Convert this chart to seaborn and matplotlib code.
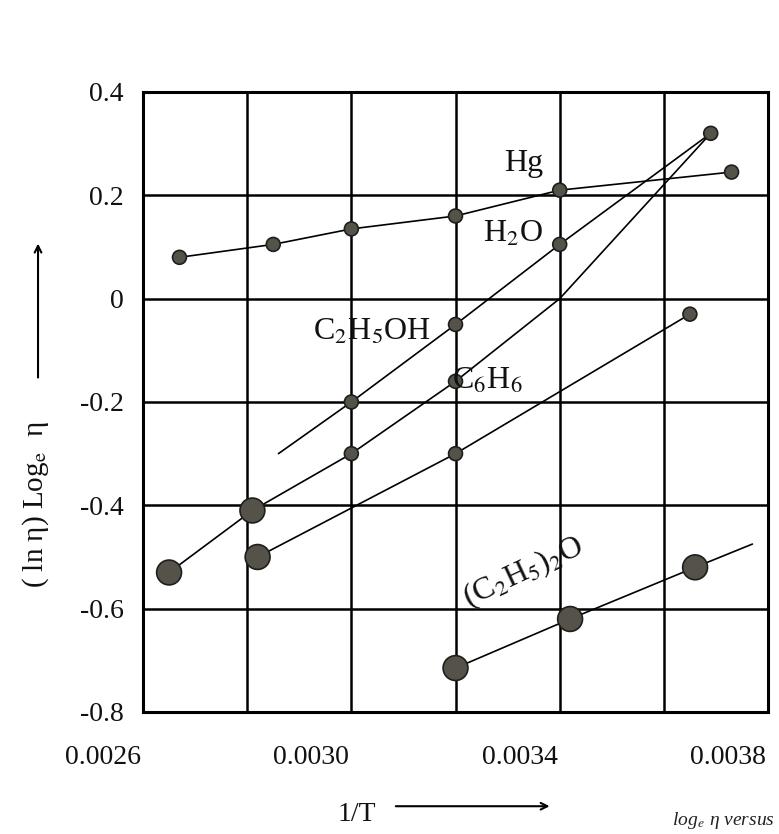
import matplotlib
matplotlib.use("Agg")
import matplotlib.pyplot as plt
import seaborn as sns
from matplotlib.transforms import ScaledTranslation

# ── data ───────────────────────────────────────────────────────
hg_x = [0.00267, 0.00285, 0.00300, 0.00320, 0.00340, 0.00373]
hg_y = [0.08, 0.105, 0.135, 0.16, 0.21, 0.245]

h2o_x = [0.00286, 0.00300, 0.00320, 0.00340, 0.00369]
h2o_y = [-0.30, -0.20, -0.05, 0.105, 0.32]

etoh_x = [0.00265, 0.00281, 0.00300, 0.00320, 0.00340, 0.00369]
etoh_y = [-0.53, -0.41, -0.30, -0.16, 0.00, 0.32]

benz_x = [0.00282, 0.00320, 0.00365]
benz_y = [-0.50, -0.30, -0.03]

ether_x = [0.00320, 0.00342, 0.00366, 0.00377]
ether_y = [-0.715, -0.62, -0.52, -0.475]

x_major = [0.0026, 0.0030, 0.0034, 0.0038]
x_minor = [0.0028, 0.0032, 0.0036]
y_ticks = [0.4, 0.2, 0.0, -0.2, -0.4, -0.6, -0.8]
y_labels = ["0.4", "0.2", "0", "-0.2", "-0.4", "-0.6", "-0.8"]

sns.set_theme(style="white")
plt.rcParams["font.family"] = ["Liberation Serif", "DejaVu Serif"]
plt.rcParams["mathtext.fontset"] = "stix"

fig = plt.figure(figsize=(7.79, 8.34), dpi=100)
ax = fig.add_axes([0.1836, 0.1463, 0.8023, 0.7434])

# series: (x, y, which points get markers, which markers are large)
series = [
    (hg_x, hg_y, [0, 1, 2, 3, 4, 5], []),
    (h2o_x, h2o_y, [1, 2, 3, 4], []),
    (etoh_x, etoh_y, [0, 1, 2, 3], [0, 1]),
    (benz_x, benz_y, [0, 1, 2], [0]),
    (ether_x, ether_y, [0, 1, 2], [0, 1, 2]),
]

for xs, ys, marked, big in series:
    sns.lineplot(x=xs, y=ys, sort=False, estimator=None, color="black",
                 lw=1.2, ax=ax, zorder=3)
    mx = [xs[i] for i in marked]
    my = [ys[i] for i in marked]
    ms = [320 if i in big else 100 for i in marked]
    sns.scatterplot(x=mx, y=my, s=ms, color="#55524a", edgecolor="#1e1e1a",
                    linewidth=1.2, ax=ax, zorder=4, legend=False)

# ── labels on the curves ───────────────────────────────────────
lab = dict(fontsize=23, color="#111111", zorder=5)
ax.text(0.00333, 0.262, "Hg", ha="center", va="center", **lab)
ax.text(0.00331, 0.125, r"H$_2$O", ha="center", va="center", **lab)
ax.text(0.00304, -0.065, r"C$_2$H$_5$OH", ha="center", va="center", **lab)
ax.text(0.00326, -0.16, r"C$_6$H$_6$", ha="center", va="center", **lab)
ax.text(0.00333, -0.53, r"(C$_2$H$_5$)$_2$O", ha="center", va="center",
        rotation=25, **lab)

# ── axes, grid ─────────────────────────────────────────────────
ax.set_xlim(0.0026, 0.0038)
ax.set_ylim(-0.8, 0.4)
ax.set_xticks(x_major)
ax.set_xticklabels(["0.0026", "0.0030", "0.0034", "0.0038"])
ax.set_xticks(x_minor, minor=True)
ax.set_yticks(y_ticks)
ax.set_yticklabels(y_labels)
ax.grid(which="both", color="black", lw=1.8)
for sp in ax.spines.values():
    sp.set_visible(True)
    sp.set_color("black")
    sp.set_linewidth(2.2)
ax.tick_params(axis="both", which="both", length=0, labelsize=20,
               labelcolor="#111111")
ax.tick_params(axis="x", pad=24)
ax.tick_params(axis="y", pad=14)
for lbl in ax.get_xticklabels():
    lbl.set_transform(lbl.get_transform() +
                      ScaledTranslation(-0.4, 0, fig.dpi_scale_trans))

ax.set_ylabel(r"( ln η) Log$_{\mathrm{e}}$  η", fontsize=21, color="#111111")
ax.yaxis.set_label_coords(-0.148, 0.334)
ax.annotate("", xy=(-0.168, 0.76), xytext=(-0.168, 0.535),
            xycoords="axes fraction",
            arrowprops=dict(arrowstyle="->", color="black", lw=1.5),
            annotation_clip=False)

ax.text(0.342, -0.166, "1/T", transform=ax.transAxes, fontsize=20,
        ha="center", va="center", color="#111111")
ax.annotate("", xy=(0.655, -0.152), xytext=(0.40, -0.152),
            xycoords="axes fraction",
            arrowprops=dict(arrowstyle="->", color="black", lw=1.5),
            annotation_clip=False)

fig.text(0.995, 0.004, r"log$_e$ η versus", fontsize=14, style="italic",
         color="#222222", ha="right", va="bottom")

fig.savefig("out.png", dpi=100, facecolor="white")
